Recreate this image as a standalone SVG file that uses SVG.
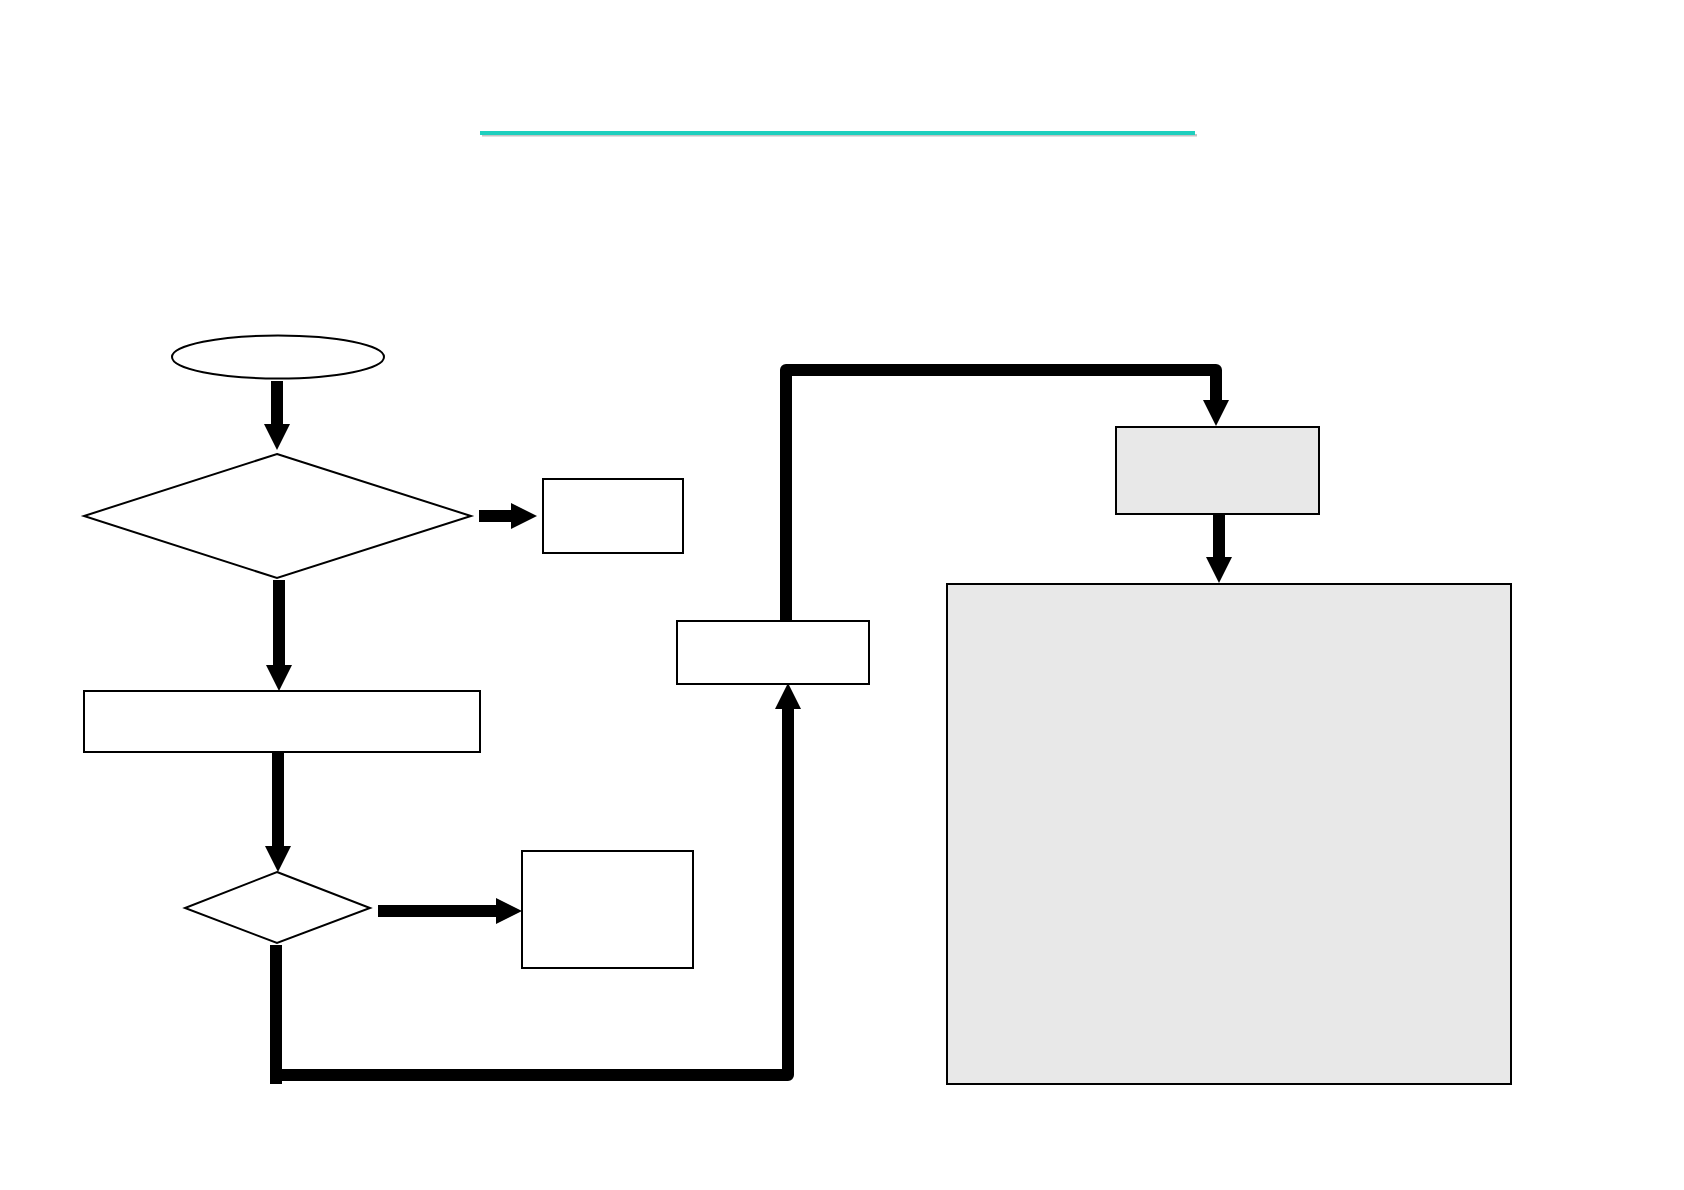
<svg xmlns="http://www.w3.org/2000/svg" width="1684" height="1190" viewBox="0 0 1684 1190">
<style>
.node{fill:#fff;stroke:#000;stroke-width:2}
.grey{fill:#e8e8e8;stroke:#000;stroke-width:2}
.conn{fill:none;stroke:#000;stroke-width:12;stroke-linejoin:round}
.sq{fill:none;stroke:#000;stroke-width:12;stroke-linecap:butt}
</style>
<defs>
<marker id="ah" markerUnits="userSpaceOnUse" viewBox="0 0 26 26" refX="0" refY="13" markerWidth="26" markerHeight="26" orient="auto">
<path d="M0,0 L26,13 L0,26 z" fill="#000"/>
</marker>
</defs>
<rect x="0" y="0" width="1684" height="1190" fill="#fff"/>
<g id="title-rule">
<rect x="482" y="134" width="715" height="2.5" fill="#c4c4c4"/>
<rect x="480" y="131" width="715" height="4" fill="#1ecfbe"/>
</g>
<g id="start"><ellipse class="node" cx="278" cy="357" rx="106" ry="21.5"/></g>
<g id="decision1"><polygon class="node" points="277,454 471,516 277,578 84,516"/></g>
<g id="box1"><rect class="node" x="543" y="479" width="140" height="74"/></g>
<g id="process1"><rect class="node" x="84" y="691" width="396" height="61"/></g>
<g id="decision2"><polygon class="node" points="277,872 370,908 277,943 185,908"/></g>
<g id="box2"><rect class="node" x="522" y="851" width="171" height="117"/></g>
<g id="box3"><rect class="node" x="677" y="621" width="192" height="63"/></g>
<g id="box4"><rect class="grey" x="1116" y="427" width="203" height="87"/></g>
<g id="box5"><rect class="grey" x="947" y="584" width="564" height="500"/></g>
<g id="connectors">
<path class="sq" d="M277,381 V424" marker-end="url(#ah)"/>
<path class="sq" d="M479,516 H511" marker-end="url(#ah)"/>
<path class="sq" d="M279,580 V665" marker-end="url(#ah)"/>
<path class="sq" d="M278,752 V846" marker-end="url(#ah)"/>
<path class="sq" d="M378,911 H496" marker-end="url(#ah)"/>
<path class="sq" d="M276,945 V1084"/>
<path class="conn" d="M282,1075 H788 V709" marker-end="url(#ah)"/>
<path class="conn" d="M786,621 V370 H1216 V400" marker-end="url(#ah)"/>
<path class="sq" d="M1219,514 V557" marker-end="url(#ah)"/>
</g>
</svg>
